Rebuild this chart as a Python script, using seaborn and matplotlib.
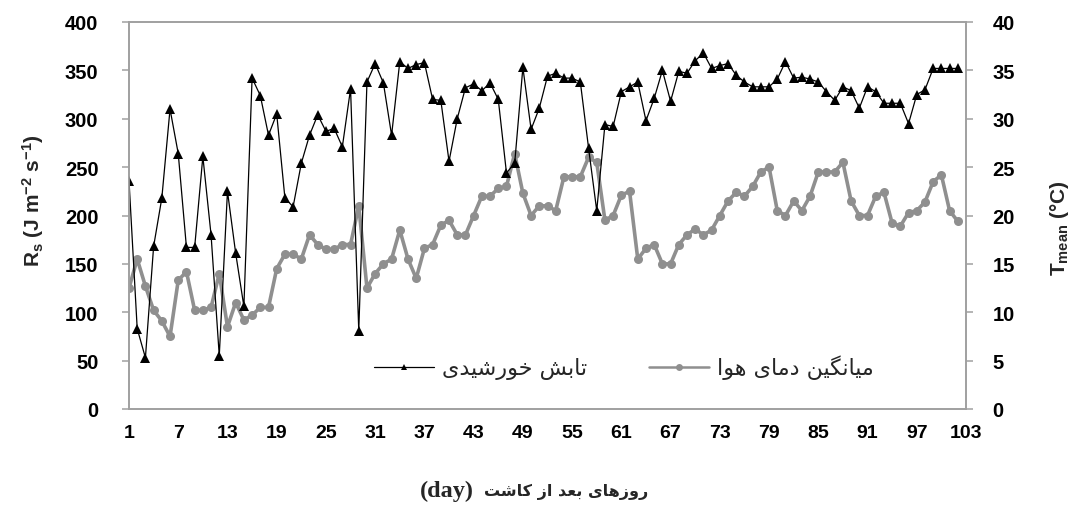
import numpy as np
import pandas as pd
import matplotlib
matplotlib.use("Agg")
import matplotlib.pyplot as plt
from matplotlib.lines import Line2D
import seaborn as sns

# ---------------- data ----------------
days = list(range(1, 103))
rs = [236, 83, 53, 168, 218, 310, 264, 167, 167, 261,
      180, 55, 225, 161, 106, 342, 324, 283, 305, 218,
      209, 254, 283, 304, 287, 290, 271, 331, 81, 338,
      357, 337, 283, 359, 352, 356, 358, 320, 319, 256,
      300, 332, 336, 329, 337, 320, 244, 254, 353, 289,
      311, 344, 347, 342, 342, 338, 270, 205, 294, 292,
      328, 333, 338, 298, 321, 350, 318, 349, 347, 360,
      368, 352, 355, 357, 345, 338, 333, 333, 333, 341,
      359, 342, 343, 341, 338, 328, 319, 333, 329, 311,
      333, 328, 316, 316, 316, 295, 325, 330, 352, 352,
      352, 352]
tmean = [12.5, 15.5, 12.7, 10.2, 9.1, 7.5, 13.3, 14.2, 10.2, 10.2,
         10.5, 14.0, 8.5, 11.0, 9.2, 9.7, 10.5, 10.5, 14.5, 16.0,
         16.0, 15.5, 18.0, 17.0, 16.5, 16.5, 17.0, 17.0, 21.0, 12.5,
         14.0, 15.0, 15.5, 18.5, 15.5, 13.5, 16.6, 17.0, 19.0, 19.5,
         18.0, 18.0, 20.0, 22.0, 22.0, 22.8, 23.0, 26.4, 22.3, 20.0,
         21.0, 21.0, 20.5, 24.0, 24.0, 24.0, 26.0, 25.5, 19.5, 20.0,
         22.1, 22.5, 15.5, 16.6, 17.0, 15.0, 15.0, 17.0, 18.0, 18.6,
         18.0, 18.5, 20.0, 21.5, 22.4, 22.0, 23.0, 24.5, 25.0, 20.5,
         20.0, 21.5, 20.5, 22.0, 24.5, 24.5, 24.5, 25.5, 21.5, 20.0,
         20.0, 22.0, 22.4, 19.2, 18.9, 20.3, 20.5, 21.4, 23.5, 24.2,
         20.5, 19.4]
xticks = list(range(1, 104, 6))
left_ticks = list(range(0, 401, 50))
right_ticks = list(range(0, 41, 5))

label_rs = "تابش خورشیدی"
label_t = "میانگین دمای هوا"
xlabel_fa = "روزهای بعد از کاشت"
xlabel_en = "(day)"

# ------------- minimal Persian shaping (presentation forms, visual order) -------------
FORMS = {  # isolated, final, initial, medial
    '\u0627': ('\uFE8D', '\uFE8E', None, None),
    '\u0628': ('\uFE8F', '\uFE90', '\uFE91', '\uFE92'),
    '\u062A': ('\uFE95', '\uFE96', '\uFE97', '\uFE98'),
    '\u062E': ('\uFEA5', '\uFEA6', '\uFEA7', '\uFEA8'),
    '\u062F': ('\uFEA9', '\uFEAA', None, None),
    '\u0631': ('\uFEAD', '\uFEAE', None, None),
    '\u0632': ('\uFEAF', '\uFEB0', None, None),
    '\u0634': ('\uFEB5', '\uFEB6', '\uFEB7', '\uFEB8'),
    '\u0639': ('\uFEC9', '\uFECA', '\uFECB', '\uFECC'),
    '\u0645': ('\uFEE1', '\uFEE2', '\uFEE3', '\uFEE4'),
    '\u0646': ('\uFEE5', '\uFEE6', '\uFEE7', '\uFEE8'),
    '\u0647': ('\uFEE9', '\uFEEA', '\uFEEB', '\uFEEC'),
    '\u0648': ('\uFEED', '\uFEEE', None, None),
    '\u06CC': ('\uFBFC', '\uFBFD', '\uFBFE', '\uFBFF'),
    '\u06A9': ('\uFB8E', '\uFB8F', '\uFB90', '\uFB91'),
    '\u06AF': ('\uFB92', '\uFB93', '\uFB94', '\uFB95'),
}


def shape(text):
    out = []
    for i, c in enumerate(text):
        if c not in FORMS:
            out.append(c)
            continue
        prev = text[i - 1] if i > 0 else None
        nxt = text[i + 1] if i + 1 < len(text) else None
        jp = prev in FORMS and FORMS[prev][2] is not None
        jn = nxt in FORMS and FORMS[c][2] is not None
        iso, fin, ini, med = FORMS[c]
        if jp and jn:
            out.append(med)
        elif jp:
            out.append(fin)
        elif jn:
            out.append(ini)
        else:
            out.append(iso)
    return ''.join(reversed(out))


# ---------------- style ----------------
sns.set_theme(style="white")
plt.rcParams['font.family'] = ['Liberation Sans', 'DejaVu Sans']
plt.rcParams['mathtext.default'] = 'regular'

spine_c = '#a0a0a0'
gray_c = '#8f8f8f'

df = pd.DataFrame({'day': days, 'rs': rs, 'tmean': tmean})

fig = plt.figure(figsize=(10.71, 5.06), dpi=100)
ax = fig.add_axes([129 / 1071, 1 - 410 / 506, (966 - 129) / 1071, (410 - 23) / 506])
ax2 = ax.twinx()

sns.lineplot(data=df, x='day', y='tmean', ax=ax2, color=gray_c, linewidth=2.6,
             marker='o', markersize=6.5, markeredgewidth=0, markerfacecolor=gray_c)
sns.lineplot(data=df, x='day', y='rs', ax=ax, color='black', linewidth=0.9,
             marker='^', markersize=7, markeredgewidth=0, markerfacecolor='black')

ax.set_zorder(ax2.get_zorder() + 1)
ax.patch.set_visible(False)

ax.set_xlim(1, 103)
ax.set_ylim(0, 400)
ax2.set_ylim(0, 40)
ax.set_xticks(xticks)
ax.set_yticks(left_ticks)
ax2.set_yticks(right_ticks)

for a in (ax, ax2):
    for s in a.spines.values():
        s.set_color(spine_c)
        s.set_linewidth(1.2)
    a.tick_params(axis='both', which='major', length=5, width=1.1, color=spine_c,
                  direction='out', labelsize=14.5, labelcolor='black')
    for lab in a.get_xticklabels() + a.get_yticklabels():
        lab.set_fontweight('bold')
ax.tick_params(axis='x', labelsize=14, pad=6)
ax.tick_params(axis='y', left=True, pad=17)
ax2.tick_params(axis='y', right=True, pad=14)

ax.set_xlabel('')
ax2.set_xlabel('')
ax.set_ylabel(r'R$_\mathregular{s}$ (J m$^\mathregular{-2}$ s$^\mathregular{-1}$)',
              fontsize=15, fontweight='bold')
ax.yaxis.set_label_coords(-83 / 837, 0.54)
ax2.set_ylabel(r'T$_\mathregular{mean}$ (°C)', fontsize=15, fontweight='bold',
               rotation=90)
ax2.yaxis.set_label_coords(1 + 82 / 837, 0.47)

# x label: visual order "(day)" then Persian
fig.text(474 / 1071, 1 - 491 / 506, xlabel_en, ha='right', va='center',
         fontsize=17.5, fontweight='bold', family=['Liberation Serif', 'DejaVu Serif'])
fig.text(484 / 1071, 1 - 492 / 506, shape(xlabel_fa), ha='left', va='center',
         fontsize=11.5, fontweight='bold', family=['DejaVu Sans'])

# legend
h1 = Line2D([], [], color='black', linewidth=0.9, marker='^', markersize=5,
            markeredgewidth=0)
h2 = Line2D([], [], color=gray_c, linewidth=1.8, marker='o', markersize=5,
            markeredgewidth=0)
leg = ax.legend([h1, h2], [shape(label_rs), shape(label_t)], ncol=2, frameon=False,
                loc='center', bbox_to_anchor=(624 / 1071, 1 - 368 / 506),
                bbox_transform=fig.transFigure, handlelength=2.7,
                handletextpad=0.35, columnspacing=2.8,
                prop={'family': ['DejaVu Sans'], 'size': 16})

fig.savefig('out.png', dpi=100)
